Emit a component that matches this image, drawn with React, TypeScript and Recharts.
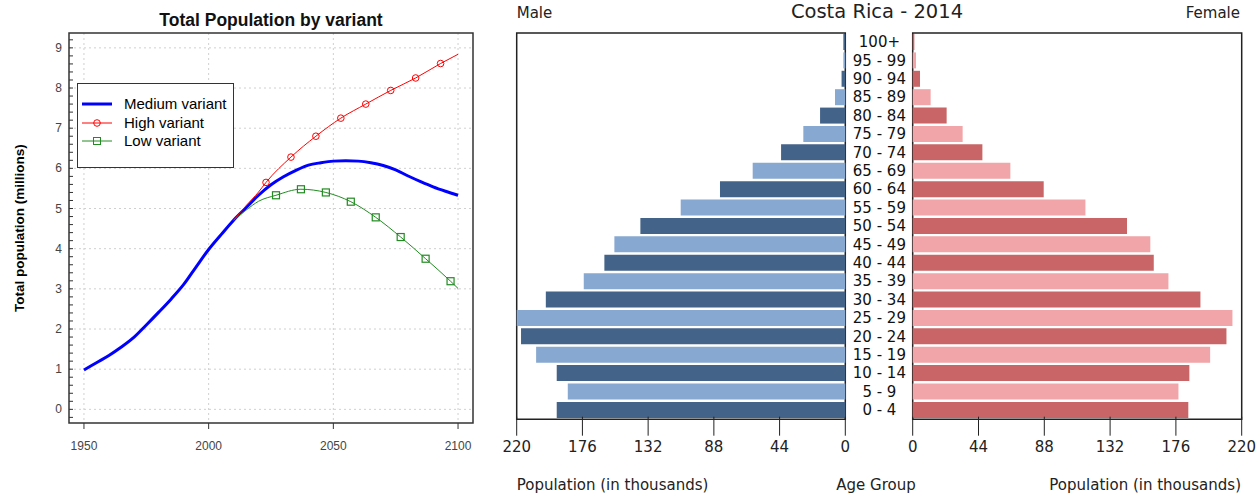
import React from 'react';
import {
  ComposedChart,
  Line,
  XAxis,
  YAxis,
  CartesianGrid,
  ReferenceArea,
  BarChart,
  Bar,
  Cell,
} from 'recharts';

// left panel: total population by variant (millions)
const mediumYears = [
  1950, 1955, 1960, 1965, 1970, 1975, 1980, 1985, 1990, 1995, 2000, 2005, 2010, 2015, 2020, 2025,
  2030, 2035, 2040, 2045, 2050, 2055, 2060, 2065, 2070, 2075, 2080, 2085, 2090, 2095, 2100,
];
const mediumValues = [
  0.98, 1.16, 1.34, 1.55, 1.79, 2.1, 2.42, 2.75, 3.11, 3.55, 3.98, 4.35, 4.71, 5.02, 5.33, 5.59,
  5.79, 5.95, 6.08, 6.14, 6.18, 6.19, 6.18, 6.14, 6.07, 5.96, 5.81, 5.67, 5.54, 5.43, 5.33,
];
const highYears = [2010, 2015, 2020, 2023, 2033, 2043, 2053, 2063, 2073, 2083, 2093, 2100];
const highValues = [4.71, 5.07, 5.41, 5.65, 6.28, 6.8, 7.25, 7.6, 7.94, 8.25, 8.61, 8.84];
const highMarkerYears = [2023, 2033, 2043, 2053, 2063, 2073, 2083, 2093];
const lowYears = [2010, 2015, 2020, 2027, 2037, 2047, 2057, 2067, 2077, 2087, 2097, 2100];
const lowValues = [4.71, 4.96, 5.18, 5.33, 5.48, 5.4, 5.17, 4.78, 4.29, 3.75, 3.19, 3.01];
const lowMarkerYears = [2027, 2037, 2047, 2057, 2067, 2077, 2087, 2097];

const yearTicks = [1950, 2000, 2050, 2100];
const popGridValues = [0, 1, 2, 3, 4, 5, 6, 7, 8, 9];
const popMinorTicks = Array.from({ length: 48 }, (_, i) => Math.round((i - 1) * 2) / 10);

// right panel: Costa Rica 2014 pyramid (thousands)
const ageGroups = [
  '0 - 4', '5 - 9', '10 - 14', '15 - 19', '20 - 24', '25 - 29', '30 - 34', '35 - 39', '40 - 44',
  '45 - 49', '50 - 54', '55 - 59', '60 - 64', '65 - 69', '70 - 74', '75 - 79', '80 - 84',
  '85 - 89', '90 - 94', '95 - 99', '100+',
];
const maleValues = [
  193.2, 185.8, 193.2, 207.0, 217.1, 220.0, 200.5, 175.1, 161.3, 154.6, 137.2, 110.2, 83.9, 62.0,
  43.0, 28.1, 16.9, 6.9, 2.5, 1.3, 1.3,
];
const femaleValues = [
  184.3, 177.7, 185.0, 198.9, 209.8, 213.8, 192.4, 171.0, 161.2, 158.9, 143.3, 115.5, 87.6, 65.3,
  46.6, 33.4, 22.7, 12.0, 4.9, 2.2, 1.1,
];
const pyramidTicks = [0, 44, 88, 132, 176, 220];

const LEFT_FONT = '"Liberation Sans", Arial, sans-serif';
const RIGHT_FONT = '"DejaVu Sans", sans-serif';

const mediumData = mediumYears.map((year, i) => ({ year, value: mediumValues[i] }));
const highData = highYears.map((year, i) => ({ year, value: highValues[i] }));
const lowData = lowYears.map((year, i) => ({ year, value: lowValues[i] }));

const pyramidRows = ageGroups
  .map((age, i) => ({ age, male: maleValues[i], female: femaleValues[i], dark: i % 2 === 0 }))
  .reverse();

// rows sit a little low in the frame, the bottom bar is cut by the axis
const ageAxisPadding = { top: 3, bottom: -2.6 };

const PopTick = (props: any) => {
  const { x, y, payload } = props;
  const v = payload.value;
  const major = Math.abs(v - Math.round(v)) < 1e-6 && v >= 0;
  return (
    <g>
      <line x1={x} x2={x + 4} y1={y} y2={y} stroke="#333" strokeWidth={1} />
      {major && (
        <text x={x - 7} y={y} textAnchor="end" dominantBaseline="central" fontSize={12} fill="#444">
          {Math.round(v)}
        </text>
      )}
    </g>
  );
};

const AgeTick = (props: any) => {
  const { x, y, payload } = props;
  return (
    <text x={x - 33.3} y={y} textAnchor="middle" dominantBaseline="central" fontSize={15} fill="#111" fontFamily={RIGHT_FONT}>
      {payload.value}
    </text>
  );
};

function LegendBox() {
  const entries = [
    { label: 'Medium variant', color: '#0000ff', width: 3, marker: null },
    { label: 'High variant', color: '#ff0000', width: 1, marker: 'circle' },
    { label: 'Low variant', color: '#228b22', width: 1, marker: 'square' },
  ];
  return (
    <div
      style={{
        position: 'absolute',
        left: 77,
        top: 83,
        width: 155,
        height: 72,
        border: '1.5px solid #333',
        background: '#fff',
        paddingTop: 11,
        boxSizing: 'content-box',
      }}
    >
      {entries.map((e) => (
        <div key={e.label} style={{ display: 'flex', alignItems: 'center', height: 18.5 }}>
          <svg width={43} height={14} style={{ marginLeft: 3 }}>
            <line x1={1} x2={31} y1={7} y2={7} stroke={e.color} strokeWidth={e.width} />
            {e.marker === 'circle' && <circle cx={16} cy={7} r={3.3} fill="none" stroke={e.color} />}
            {e.marker === 'square' && <rect x={12.5} y={3.5} width={7} height={7} fill="none" stroke={e.color} />}
          </svg>
          <span style={{ fontSize: 15, color: '#000', lineHeight: '18px' }}>{e.label}</span>
        </div>
      ))}
    </div>
  );
}

const markerDot = (years: number[], color: string, shape: 'circle' | 'square') => (p: any) => {
  const key = `d-${p.index}`;
  if (!years.includes(p.payload.year)) return <g key={key} />;
  if (shape === 'circle') {
    return <circle key={key} cx={p.cx} cy={p.cy} r={3.3} fill="none" stroke={color} strokeWidth={1} />;
  }
  return <rect key={key} x={p.cx - 3.5} y={p.cy - 3.5} width={7} height={7} fill="none" stroke={color} strokeWidth={1.2} />;
};

function PopulationChart() {
  return (
    <div style={{ position: 'absolute', left: 0, top: 0, width: 480, height: 497, fontFamily: LEFT_FONT }}>
      <div
        style={{
          position: 'absolute',
          left: 69,
          top: 9,
          width: 404,
          textAlign: 'center',
          fontSize: 17.5,
          fontWeight: 'bold',
          lineHeight: '22px',
          color: '#111',
        }}
      >
        Total Population by variant
      </div>
      <div
        style={{
          position: 'absolute',
          left: 20 - 150,
          top: 228 - 10,
          width: 300,
          height: 20,
          lineHeight: '20px',
          textAlign: 'center',
          fontSize: 13.5,
          fontWeight: 'bold',
          transform: 'rotate(-90deg)',
          color: '#000',
        }}
      >
        Total population (millions)
      </div>
      <ComposedChart width={480} height={497} margin={{ top: 33, right: 7, bottom: 44, left: 0 }}>
        <CartesianGrid
          stroke="#d0d0d0"
          strokeDasharray="2 3"
          horizontalValues={popGridValues}
          verticalValues={yearTicks}
        />
        <XAxis
          dataKey="year"
          type="number"
          domain={[1944, 2106]}
          ticks={yearTicks}
          interval={0}
          allowDataOverflow
          height={30}
          tickSize={6}
          tickMargin={12}
          axisLine={false}
          tickLine={{ stroke: '#333' }}
          tick={{ fontSize: 12, fill: '#444' }}
        />
        <YAxis
          type="number"
          domain={[-0.34, 9.37]}
          ticks={popMinorTicks}
          interval={0}
          allowDataOverflow
          width={69}
          tickSize={0}
          tickMargin={0}
          axisLine={false}
          tickLine={false}
          tick={<PopTick />}
        />
        <Line
          data={mediumData}
          dataKey="value"
          type="monotone"
          stroke="#0000ff"
          strokeWidth={3}
          dot={false}
          isAnimationActive={false}
        />
        <Line
          data={highData}
          dataKey="value"
          type="monotone"
          stroke="#ff0000"
          strokeWidth={1}
          dot={markerDot(highMarkerYears, '#ff0000', 'circle')}
          isAnimationActive={false}
        />
        <Line
          data={lowData}
          dataKey="value"
          type="monotone"
          stroke="#228b22"
          strokeWidth={1}
          dot={markerDot(lowMarkerYears, '#228b22', 'square')}
          isAnimationActive={false}
        />
        <ReferenceArea x1={1944} x2={2106} y1={-0.34} y2={9.37} fill="none" stroke="#333" strokeWidth={1.5} />
      </ComposedChart>
      <LegendBox />
    </div>
  );
}

function PyramidChart() {
  const textStyle: React.CSSProperties = {
    position: 'absolute',
    height: 20,
    lineHeight: '20px',
    fontSize: 15,
    color: '#222',
    whiteSpace: 'nowrap',
  };
  return (
    <div style={{ position: 'absolute', left: 500, top: 0, width: 759, height: 497, fontFamily: RIGHT_FONT }}>
      <div style={{ ...textStyle, left: 16.7, top: 3 }}>Male</div>
      <div style={{ ...textStyle, right: 19, top: 3 }}>Female</div>
      <div style={{ ...textStyle, left: 377 - 150, width: 300, textAlign: 'center', top: 1, fontSize: 19.5, lineHeight: '22px' }}>
        Costa Rica - 2014
      </div>
      <div style={{ ...textStyle, left: 16.7, top: 475 }}>Population (in thousands)</div>
      <div style={{ ...textStyle, left: 376 - 100, width: 200, textAlign: 'center', top: 475 }}>Age Group</div>
      <div style={{ ...textStyle, right: 18, top: 475 }}>Population (in thousands)</div>

      <div style={{ position: 'absolute', left: 0, top: 0 }}>
        <BarChart
          layout="vertical"
          width={360}
          height={497}
          data={pyramidRows}
          margin={{ top: 30, right: 14.7, bottom: 40, left: 16.7 }}
        >
          <XAxis
            type="number"
            domain={[0, 220]}
            reversed
            ticks={pyramidTicks}
            interval={0}
            height={40.3}
            tickSize={19}
            tickMargin={6}
            axisLine={false}
            tickLine={{ stroke: '#222' }}
            tick={{ fontSize: 15, fill: '#222', fontFamily: RIGHT_FONT }}
          />
          <YAxis type="category" dataKey="age" hide padding={ageAxisPadding} />
          <Bar dataKey="male" barSize={16} isAnimationActive={false}>
            {pyramidRows.map((r) => (
              <Cell key={r.age} fill={r.dark ? '#436389' : '#87a8d0'} />
            ))}
          </Bar>
          <ReferenceArea x1={0} x2={220} fill="none" stroke="#222" strokeWidth={1.5} />
        </BarChart>
      </div>

      <div style={{ position: 'absolute', left: 346, top: 0 }}>
        <BarChart
          layout="vertical"
          width={413}
          height={497}
          data={pyramidRows}
          margin={{ top: 30, right: 17.3, bottom: 40, left: 0 }}
        >
          <XAxis
            type="number"
            domain={[0, 220]}
            ticks={pyramidTicks}
            interval={0}
            height={40.3}
            tickSize={19}
            tickMargin={6}
            axisLine={false}
            tickLine={{ stroke: '#222' }}
            tick={{ fontSize: 15, fill: '#222', fontFamily: RIGHT_FONT }}
          />
          <YAxis
            type="category"
            dataKey="age"
            width={66.7}
            interval={0}
            padding={ageAxisPadding}
            tickSize={0}
            tickMargin={0}
            axisLine={false}
            tickLine={false}
            tick={<AgeTick />}
          />
          <Bar dataKey="female" barSize={16} isAnimationActive={false}>
            {pyramidRows.map((r) => (
              <Cell key={r.age} fill={r.dark ? '#c96566' : '#f1a5a9'} />
            ))}
          </Bar>
          <ReferenceArea x1={0} x2={220} fill="none" stroke="#222" strokeWidth={1.5} />
        </BarChart>
      </div>
    </div>
  );
}

export default function App() {
  return (
    <div style={{ position: 'fixed', left: 0, top: 0, width: 1259, height: 497, background: '#fff', overflow: 'hidden' }}>
      <PopulationChart />
      <PyramidChart />
    </div>
  );
}
